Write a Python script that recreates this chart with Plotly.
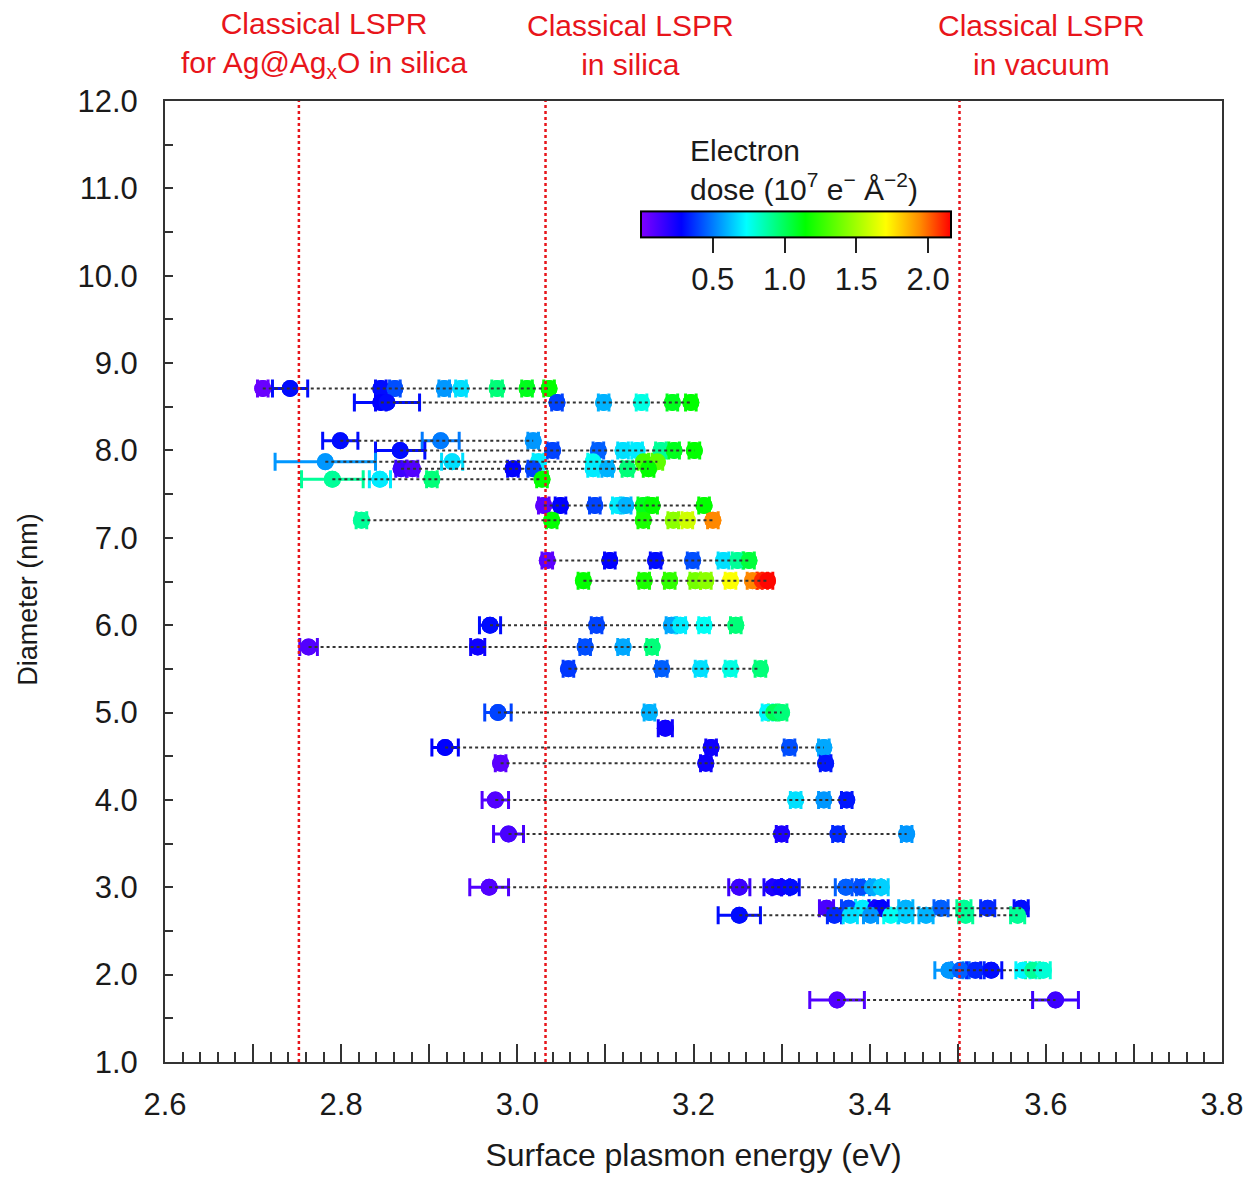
import plotly.graph_objects as go

# ---------------- data ----------------
diameters = [8.71, 8.55, 8.11, 8.00, 7.87, 7.79, 7.67, 7.37, 7.20, 6.74, 6.51,
             6.00, 5.75, 5.50, 5.00, 4.82, 4.60, 4.42, 4.00, 3.61, 3.00, 2.76,
             2.68, 2.05, 1.71]

energies = [
    [2.711, 2.742, 2.845, 2.861, 2.917, 2.936, 2.977, 3.011, 3.036],
    [2.845, 2.852, 3.045, 3.098, 3.141, 3.176, 3.197],
    [2.799, 2.913, 3.018],
    [2.867, 3.040, 3.092, 3.120, 3.136, 3.163, 3.178, 3.201],
    [2.782, 2.926, 3.024, 3.086, 3.143, 3.159],
    [2.868, 2.881, 2.995, 3.018, 3.086, 3.102, 3.125, 3.149],
    [2.790, 2.844, 2.903, 3.028],
    [3.030, 3.049, 3.088, 3.114, 3.123, 3.143, 3.153, 3.212],
    [2.823, 3.039, 3.143, 3.177, 3.193, 3.222],
    [3.034, 3.105, 3.157, 3.199, 3.234, 3.250, 3.263],
    [3.075, 3.144, 3.173, 3.202, 3.214, 3.242, 3.267, 3.278, 3.284],
    [2.969, 3.090, 3.175, 3.185, 3.212, 3.248],
    [2.763, 2.955, 3.077, 3.120, 3.153],
    [3.058, 3.164, 3.208, 3.242, 3.276],
    [2.978, 3.150, 3.284, 3.291, 3.300],
    [3.168],
    [2.918, 3.220, 3.309, 3.348],
    [2.981, 3.214, 3.350],
    [2.975, 3.316, 3.348, 3.374],
    [2.990, 3.300, 3.364, 3.442],
    [2.968, 3.252, 3.290, 3.299, 3.310, 3.373, 3.390, 3.403, 3.413],
    [3.351, 3.376, 3.392, 3.407, 3.413, 3.441, 3.481, 3.507, 3.534, 3.572],
    [3.252, 3.360, 3.378, 3.401, 3.424, 3.441, 3.464, 3.509, 3.568],
    [3.490, 3.503, 3.520, 3.538, 3.574, 3.585, 3.597],
    [3.363, 3.611],
]

doses = [
    [0.05, 0.30, 0.30, 0.42, 0.55, 0.68, 0.95, 1.10, 1.15],
    [0.28, 0.30, 0.40, 0.60, 0.78, 1.10, 1.15],
    [0.30, 0.50, 0.55],
    [0.30, 0.40, 0.45, 0.68, 0.70, 0.90, 1.10, 1.15],
    [0.55, 0.68, 0.70, 0.75, 1.30, 1.35],
    [0.15, 0.10, 0.28, 0.40, 0.70, 0.60, 0.95, 1.15],
    [0.90, 0.70, 0.95, 1.15],
    [0.08, 0.28, 0.40, 0.70, 0.60, 1.10, 1.15, 1.15],
    [0.90, 1.15, 1.20, 1.45, 1.60, 1.95],
    [0.08, 0.28, 0.30, 0.42, 0.68, 0.90, 1.05],
    [1.15, 1.20, 1.25, 1.40, 1.45, 1.70, 1.95, 2.10, 2.15],
    [0.30, 0.40, 0.58, 0.70, 0.75, 0.95],
    [0.10, 0.25, 0.42, 0.58, 0.95],
    [0.38, 0.45, 0.68, 0.78, 0.95],
    [0.40, 0.60, 0.72, 1.00, 0.95],
    [0.25],
    [0.28, 0.25, 0.42, 0.58],
    [0.08, 0.25, 0.32],
    [0.10, 0.68, 0.55, 0.32],
    [0.12, 0.22, 0.35, 0.55],
    [0.10, 0.15, 0.22, 0.25, 0.30, 0.45, 0.42, 0.58, 0.65],
    [0.12, 0.40, 0.70, 0.25, 0.28, 0.60, 0.45, 0.90, 0.35, 0.30],
    [0.30, 0.35, 0.68, 0.55, 0.75, 0.65, 0.60, 0.90, 0.90],
    [0.55, 0.45, 0.35, 0.30, 0.72, 0.90, 0.80],
    [0.10, 0.15],
]

errors = [
    [0.006, 0.020, 0.006, 0.006, 0.006, 0.006, 0.006, 0.006, 0.006],
    [0.006, 0.037, 0.006, 0.006, 0.006, 0.006, 0.006],
    [0.020, 0.021, 0.006],
    [0.028, 0.006, 0.006, 0.006, 0.006, 0.006, 0.006, 0.006],
    [0.057, 0.012, 0.006, 0.006, 0.006, 0.006],
    [0.006, 0.006, 0.006, 0.006, 0.006, 0.006, 0.006, 0.006],
    [0.035, 0.012, 0.006, 0.006],
    [0.006, 0.006, 0.006, 0.006, 0.006, 0.006, 0.006, 0.006],
    [0.006, 0.006, 0.006, 0.006, 0.006, 0.006],
    [0.006, 0.006, 0.006, 0.006, 0.006, 0.006, 0.006],
    [0.006, 0.006, 0.006, 0.006, 0.006, 0.006, 0.006, 0.006, 0.006],
    [0.012, 0.006, 0.006, 0.006, 0.006, 0.006],
    [0.010, 0.008, 0.006, 0.006, 0.006],
    [0.006, 0.006, 0.006, 0.006, 0.006],
    [0.015, 0.006, 0.006, 0.006, 0.006],
    [0.008],
    [0.015, 0.006, 0.006, 0.006],
    [0.006, 0.006, 0.006],
    [0.015, 0.006, 0.006, 0.006],
    [0.017, 0.006, 0.006, 0.006],
    [0.022, 0.012, 0.010, 0.010, 0.010, 0.012, 0.010, 0.010, 0.008],
    [0.008, 0.008, 0.008, 0.008, 0.008, 0.008, 0.008, 0.008, 0.008, 0.008],
    [0.024, 0.008, 0.008, 0.008, 0.008, 0.008, 0.008, 0.008, 0.008],
    [0.016, 0.010, 0.010, 0.012, 0.008, 0.008, 0.008],
    [0.031, 0.026],
]

lspr_energies = [2.752, 3.032, 3.502]
lspr_label_x = [2.781, 3.128, 3.595]
lspr_labels = ["Classical LSPR<br>for Ag@Ag<sub>x</sub>O in silica",
               "Classical LSPR<br>in silica",
               "Classical LSPR<br>in vacuum"]

dose_min, dose_max = 0.0, 2.16
cbar_tickvals = [0.5, 1.0, 1.5, 2.0]

x_major = [round(2.6 + 0.1 * i, 1) for i in range(13)]
x_labels = [f"{v:.1f}" if i % 2 == 0 else "" for i, v in enumerate(x_major)]

# ---------------- styling ----------------
FONT = "Liberation Sans, Arial, Helvetica, sans-serif"
TXT = "#1a1a1a"
RED = "#e8151b"
stops = [(0.0, "#8000ff"), (0.13, "#0000ff"), (0.34, "#00ffff"),
         (0.53, "#00ff00"), (0.79, "#ffff00"), (0.90, "#ff8c00"), (1.0, "#ff0000")]
colorscale = [[p, c] for p, c in stops]


def hex2rgb(h):
    h = h.lstrip("#")
    return tuple(int(h[i:i + 2], 16) for i in (0, 2, 4))


def dose_color(d):
    t = min(max((d - dose_min) / (dose_max - dose_min), 0.0), 1.0)
    for (p0, c0), (p1, c1) in zip(stops[:-1], stops[1:]):
        if t <= p1:
            f = 0 if p1 == p0 else (t - p0) / (p1 - p0)
            a, b = hex2rgb(c0), hex2rgb(c1)
            r = [round(a[k] + (b[k] - a[k]) * f) for k in range(3)]
            return f"rgb({r[0]},{r[1]},{r[2]})"
    return "rgb(255,0,0)"


fig = go.Figure()

MS = 17
# error bars (one trace per point so each bar takes the point's colour)
for d, xs, ds, es in zip(diameters, energies, doses, errors):
    for x, c, e in zip(xs, ds, es):
        col = dose_color(c)
        fig.add_trace(go.Scatter(
            x=[x], y=[d], mode="markers",
            marker=dict(size=MS, color=col, line=dict(width=0)),
            error_x=dict(type="data", array=[e], color=col, thickness=3, width=9),
            showlegend=False, hoverinfo="skip"))

# all markers coloured by dose, with the colour bar
all_x = [x for xs in energies for x in xs]
all_y = [d for d, xs in zip(diameters, energies) for _ in xs]
all_c = [c for ds in doses for c in ds]
fig.add_trace(go.Scatter(
    x=all_x, y=all_y, mode="markers",
    marker=dict(size=MS, color=all_c, colorscale=colorscale, cmin=dose_min, cmax=dose_max,
                line=dict(width=0), showscale=True,
                colorbar=dict(orientation="h", x=0.597, xanchor="center", y=0.840,
                              yanchor="middle", len=0.312, lenmode="fraction",
                              thickness=26, outlinewidth=2, outlinecolor="black",
                              tickvals=cbar_tickvals, ticktext=[f"{v:.1f}" for v in cbar_tickvals],
                              ticks="outside", ticklen=15, tickwidth=1.5, tickcolor="#222",
                              tickfont=dict(family=FONT, size=31, color=TXT))),
    showlegend=False, hoverinfo="skip"))

# dotted connecting lines per particle
for d, xs in zip(diameters, energies):
    if len(xs) > 1:
        fig.add_trace(go.Scatter(
            x=[min(xs), max(xs)], y=[d, d], mode="lines",
            line=dict(color="#333333", width=2, dash="dot"),
            showlegend=False, hoverinfo="skip"))

# classical LSPR reference lines
for e in lspr_energies:
    fig.add_trace(go.Scatter(
        x=[e, e], y=[1, 12], mode="lines",
        line=dict(color=RED, width=2.5, dash="dot"),
        showlegend=False, hoverinfo="skip"))

annotations = []
for xl, txt in zip(lspr_label_x, lspr_labels):
    annotations.append(dict(x=xl, xref="x", y=1.058, yref="paper", text=txt,
                            showarrow=False, xanchor="center", yanchor="middle",
                            font=dict(family=FONT, size=30, color=RED)))
annotations.append(dict(x=0.4948, xref="paper", y=0.928, yref="paper",
                        text="Electron<br>dose (10<sup>7</sup> e<sup>−</sup> Å<sup>−2</sup>)",
                        showarrow=False, xanchor="left", yanchor="middle", align="left",
                        font=dict(family=FONT, size=30, color=TXT)))
annotations.append(dict(x=-0.1296, xref="paper", y=0.481, yref="paper",
                        text="Diameter (nm)", textangle=-90,
                        showarrow=False, xanchor="center", yanchor="middle",
                        font=dict(family=FONT, size=27, color=TXT)))

fig.update_layout(
    width=1254, height=1177,
    margin=dict(l=157, r=40, t=93, b=123),
    paper_bgcolor="white", plot_bgcolor="white",
    font=dict(family=FONT, size=30, color=TXT),
    annotations=annotations,
    xaxis=dict(range=[2.6, 3.8], tickmode="array", tickvals=x_major, ticktext=x_labels,
               ticks="inside", ticklen=18, tickwidth=1.5, tickcolor="#333",
               minor=dict(tick0=2.6, dtick=0.02, ticks="inside", ticklen=10,
                          tickwidth=1.5, tickcolor="#333"),
               showline=True, linewidth=2, linecolor="#333", mirror=True,
               showgrid=False, zeroline=False, ticklabelstandoff=14,
               tickfont=dict(family=FONT, size=31, color=TXT),
               title=dict(text="Surface plasmon energy (eV)", standoff=22,
                          font=dict(family=FONT, size=32, color=TXT))),
    yaxis=dict(range=[1, 12], tick0=1, dtick=1, tickformat=".1f",
               ticks="inside", ticklen=8, tickwidth=1.5, tickcolor="#333",
               minor=dict(dtick=0.5, ticks="inside", ticklen=8, tickwidth=1.5,
                          tickcolor="#333"),
               showline=True, linewidth=2, linecolor="#333", mirror=True,
               showgrid=False, zeroline=False, ticklabelstandoff=19,
               tickfont=dict(family=FONT, size=31, color=TXT)),
)

fig.write_html("out.html")
